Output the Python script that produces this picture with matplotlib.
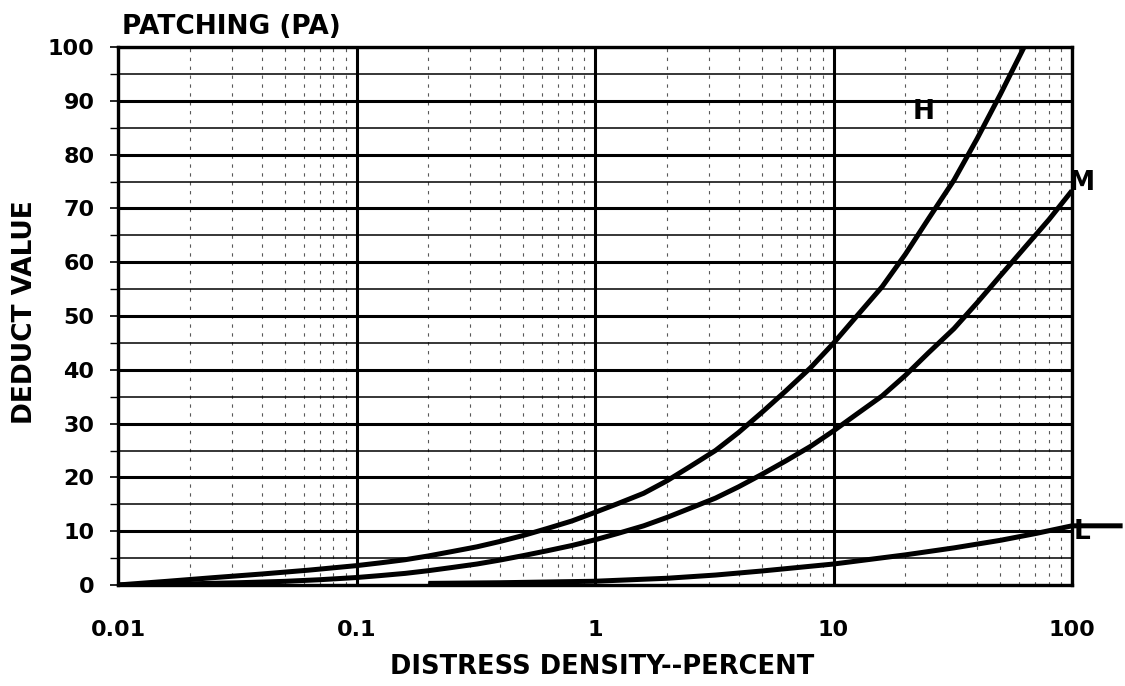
import matplotlib
matplotlib.use("Agg")
import matplotlib.pyplot as plt
from matplotlib.ticker import FixedLocator, LogLocator, NullFormatter, MultipleLocator

# Deduct value curves for patching, by severity level (density in percent)
h_density = [0.01, 0.016, 0.025, 0.04, 0.063, 0.1, 0.125, 0.16, 0.2, 0.25, 0.32,
             0.4, 0.5, 0.63, 0.8, 1, 1.25, 1.6, 2, 2.5, 3.2, 4, 5, 6.3, 8, 10,
             12.5, 16, 20, 25, 32, 40, 50, 63]
h_deduct = [0, 0.68, 1.36, 2.04, 2.76, 3.6, 4.1, 4.7, 5.4, 6.2, 7.1,
            8.1, 9.2, 10.5, 11.9, 13.5, 15.15, 17.05, 19.35, 22.0, 25.0, 28.35, 32.05, 36.05, 40.35, 44.95,
            49.95, 55.45, 61.45, 68.05, 75.25, 82.95, 91.15, 100]

m_density = [0.01, 0.02, 0.032, 0.05, 0.07, 0.1, 0.125, 0.16, 0.2, 0.25, 0.32,
             0.4, 0.5, 0.63, 0.8, 1, 1.25, 1.6, 2, 2.5, 3.2, 4, 5, 6.3, 8, 10,
             12.5, 16, 20, 25, 32, 40, 50, 63, 80, 100]
m_deduct = [0, 0.22, 0.42, 0.68, 0.98, 1.39, 1.74, 2.16, 2.66, 3.24, 3.9,
            4.64, 5.46, 6.36, 7.34, 8.4, 9.6, 11.0, 12.55, 14.25, 16.15, 18.25, 20.55, 23.05, 25.75, 28.65,
            31.75, 35.15, 38.95, 43.15, 47.65, 52.45, 57.45, 62.6, 67.9, 73.3]

l_density = [0.2, 0.4, 1, 2, 3.2, 5, 10, 20, 32, 50, 71, 100, 163]
l_deduct = [0.3, 0.42, 0.7, 1.25, 1.85, 2.6, 3.9, 5.6, 6.9, 8.3, 9.6, 11.0, 11.0]

x_ticks = [0.01, 0.1, 1, 10, 100]
x_tick_labels = ["0.01", "0.1", "1", "10", "100"]
y_ticks = [0, 10, 20, 30, 40, 50, 60, 70, 80, 90, 100]

FONT = "DejaVu Sans"
W, H = 1125, 686

fig = plt.figure(figsize=(W / 100, H / 100), dpi=100)
ax = fig.add_axes([118 / W, 1 - 585 / H, (1072 - 118) / W, (585 - 47) / H])

ax.set_xscale("log")
ax.set_xlim(0.01, 100)
ax.set_ylim(0, 100)

# grid
ax.xaxis.set_major_locator(FixedLocator(x_ticks))
ax.xaxis.set_minor_locator(LogLocator(base=10, subs=range(2, 10)))
ax.xaxis.set_minor_formatter(NullFormatter())
ax.yaxis.set_major_locator(FixedLocator(y_ticks))
ax.yaxis.set_minor_locator(MultipleLocator(5))

ax.grid(which="major", axis="both", color="black", linewidth=2.2)
ax.xaxis.grid(which="minor", color="0.35", linewidth=0.8, linestyle=(0, (3, 5)))
ax.yaxis.grid(which="minor", color="black", linewidth=1.1)
ax.set_axisbelow(True)

for sp in ax.spines.values():
    sp.set_linewidth(2.4)
    sp.set_color("black")

ax.set_xticks(x_ticks)
ax.set_xticklabels(x_tick_labels)
ax.set_yticks(y_ticks)
ax.set_yticklabels([str(v) for v in y_ticks])

ax.tick_params(axis="x", which="both", length=0, pad=25)
ax.tick_params(axis="y", which="major", direction="out", length=6, width=1.2, pad=11)
ax.tick_params(axis="y", which="minor", direction="out", length=6, width=1.0)
for lab in ax.get_xticklabels() + ax.get_yticklabels():
    lab.set_fontfamily(FONT)
    lab.set_fontweight("bold")
    lab.set_fontsize(16)

# curves
curve_kw = dict(color="black", linewidth=3.6, solid_capstyle="butt",
                solid_joinstyle="round", zorder=5)
ax.plot(h_density, h_deduct, **curve_kw)
ax.plot(m_density, m_deduct, **curve_kw)
ax.plot(l_density, l_deduct, clip_on=False, **curve_kw)

label_kw = dict(fontfamily=FONT, fontweight="bold", fontsize=19, color="black",
                ha="center", va="center", zorder=6)
ax.text(23.8, 87.9, "H", **label_kw)
ax.text(110, 74.7, "M", **label_kw)
ax.text(110, 9.9, "L", **label_kw)

# titles
fig.text(122 / W, 1 - 34 / H, "PATCHING (PA)", fontfamily=FONT, fontweight="bold",
         fontsize=19, ha="left", va="baseline")
fig.text(25 / W, 1 - 312 / H, "DEDUCT VALUE", fontfamily=FONT, fontweight="bold",
         fontsize=19, rotation=90, ha="center", va="center")
fig.text(602 / W, 1 - 667 / H, "DISTRESS DENSITY--PERCENT", fontfamily=FONT,
         fontweight="bold", fontsize=18.5, ha="center", va="center")

fig.savefig("out.png", dpi=100, facecolor="white")
